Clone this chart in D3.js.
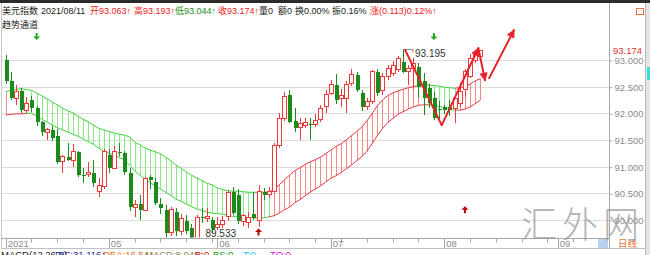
<!DOCTYPE html>
<html>
<head>
<meta charset="utf-8">
<script src="https://cdn.jsdelivr.net/npm/d3@7"></script>
<style>
  body { margin: 0; background: #fff; overflow: hidden; }
  svg { display: block; font-family: "Liberation Sans", "Noto Sans CJK SC", sans-serif; }
</style>
</head>
<body>
<svg id="chart" width="650" height="255"></svg>
<script>
// Daily candles, 2021-04-05 .. 2021-08-11
const opens = [93.00, 92.60, 92.28, 92.41, 92.06, 92.25, 92.10, 91.84, 91.65, 91.69,
  91.58, 91.09, 91.19, 91.12, 91.28, 90.85, 90.86, 90.88, 90.53, 90.63,
  91.22, 90.97, 91.28, 91.25, 90.88, 90.24, 90.30, 90.17, 90.80, 90.72,
  90.30, 90.19, 89.76, 90.15, 89.78, 89.98, 89.85, 89.60, 90.06, 90.02,
  90.00, 89.86, 89.92, 90.06, 90.53, 90.47, 89.97, 89.95, 90.12, 90.00,
  90.53, 90.48, 90.54, 91.40, 91.90, 92.34, 91.86, 91.73, 91.78, 91.80,
  91.79, 91.88, 92.12, 92.38, 92.53, 92.27, 92.28, 92.56, 92.72, 92.38,
  92.12, 92.22, 92.78, 92.42, 92.69, 92.75, 92.83, 92.97, 92.78, 92.84,
  92.87, 92.60, 92.47, 92.28, 92.09, 92.12, 92.12, 92.09, 92.19, 92.44,
  92.69, 93.00, 93.063];
const highs = [93.10, 92.78, 92.53, 92.47, 92.30, 92.32, 92.14, 91.86, 91.73, 91.77,
  91.71, 91.22, 91.44, 91.42, 91.30, 90.97, 91.09, 91.13, 90.78, 91.34,
  91.34, 91.38, 91.44, 91.30, 90.97, 90.37, 90.47, 90.81, 90.84, 90.78,
  90.41, 90.28, 90.25, 90.22, 90.12, 90.10, 89.92, 90.10, 90.22, 90.22,
  90.06, 90.06, 90.08, 90.56, 90.62, 90.58, 90.12, 90.15, 90.53, 90.66,
  90.60, 90.62, 91.45, 92.00, 92.40, 92.44, 92.10, 91.92, 91.92, 91.92,
  91.98, 92.16, 92.44, 92.62, 92.73, 92.46, 92.60, 92.84, 92.78, 92.44,
  92.28, 92.82, 92.83, 92.75, 92.90, 92.98, 93.08, 93.195, 92.91, 93.03,
  92.94, 92.75, 92.55, 92.40, 92.23, 92.15, 92.25, 92.31, 92.56, 92.84,
  93.12, 93.18, 93.193];
const lows = [92.55, 92.25, 92.16, 92.00, 92.00, 92.02, 91.77, 91.58, 91.50, 91.48,
  91.05, 90.88, 91.10, 91.00, 90.80, 90.69, 90.81, 90.62, 90.44, 90.59,
  90.88, 90.97, 91.20, 90.85, 90.16, 90.06, 90.00, 90.16, 90.59, 90.28,
  90.12, 89.65, 89.70, 89.70, 89.72, 89.74, 89.533, 89.56, 89.94, 89.97,
  89.75, 89.81, 89.85, 89.98, 90.10, 89.92, 89.88, 89.85, 90.00, 89.87,
  90.38, 90.42, 90.50, 91.35, 91.85, 91.82, 91.65, 91.50, 91.72, 91.50,
  91.74, 91.83, 92.00, 92.34, 92.18, 92.12, 92.00, 92.52, 92.40, 92.05,
  92.06, 92.18, 92.33, 92.35, 92.62, 92.70, 92.78, 92.75, 92.53, 92.46,
  92.31, 91.96, 92.10, 91.87, 91.86, 91.98, 91.95, 91.81, 92.12, 92.31,
  92.66, 92.94, 93.044];
const closes = [92.60, 92.28, 92.41, 92.06, 92.19, 92.10, 91.84, 91.65, 91.69, 91.54,
  91.09, 91.19, 91.12, 91.28, 90.84, 90.84, 90.90, 90.69, 90.65, 91.28,
  90.97, 91.28, 91.25, 90.90, 90.25, 90.30, 90.18, 90.78, 90.75, 90.31,
  90.22, 89.76, 90.19, 89.80, 90.03, 89.80, 89.62, 90.05, 90.03, 90.06,
  89.84, 89.92, 90.00, 90.51, 90.14, 89.98, 90.09, 90.04, 90.04, 90.53,
  90.46, 90.54, 91.40, 91.90, 92.31, 91.84, 91.73, 91.81, 91.82, 91.78,
  91.87, 92.10, 92.36, 92.55, 92.25, 92.34, 92.54, 92.72, 92.44, 92.12,
  92.22, 92.78, 92.38, 92.70, 92.84, 92.90, 93.03, 92.78, 92.84, 92.94,
  92.50, 92.28, 92.19, 91.91, 92.06, 92.06, 92.06, 92.28, 92.41, 92.78,
  93.03, 93.12, 93.174];

// Trend channel (趋势通道)
const bandUpper = [92.40, 92.43, 92.45, 92.46, 92.45, 92.43, 92.38, 92.33, 92.27, 92.21,
  92.16, 92.10, 92.05, 92.01, 91.95, 91.89, 91.84, 91.78, 91.72, 91.69,
  91.66, 91.63, 91.61, 91.59, 91.56, 91.46, 91.41, 91.35, 91.31, 91.28,
  91.24, 91.18, 91.11, 91.03, 90.97, 90.90, 90.84, 90.79, 90.74, 90.69,
  90.66, 90.60, 90.57, 90.55, 90.54, 90.54, 90.53, 90.52, 90.52, 90.52,
  90.52, 90.53, 90.56, 90.66, 90.75, 90.84, 90.92, 90.98, 91.04, 91.09,
  91.13, 91.18, 91.24, 91.31, 91.38, 91.43, 91.50, 91.58, 91.66, 91.74,
  91.86, 91.99, 92.14, 92.25, 92.33, 92.38, 92.42, 92.45, 92.48, 92.50,
  92.52, 92.53, 92.53, 92.52, 92.51, 92.49, 92.48, 92.47, 92.48, 92.50,
  92.55, 92.61, 92.65];
const bandLower = [91.97, 91.98, 91.99, 91.99, 92.00, 92.00, 91.95, 91.89, 91.84, 91.78,
  91.73, 91.69, 91.65, 91.61, 91.57, 91.52, 91.47, 91.42, 91.35, 91.29,
  91.26, 91.22, 91.17, 91.13, 91.03, 90.92, 90.84, 90.77, 90.70, 90.64,
  90.58, 90.52, 90.46, 90.39, 90.35, 90.30, 90.25, 90.21, 90.18, 90.15,
  90.13, 90.12, 90.11, 90.09, 90.07, 90.06, 90.06, 90.05, 90.04, 90.03,
  90.04, 90.06, 90.08, 90.13, 90.19, 90.24, 90.32, 90.38, 90.45, 90.52,
  90.58, 90.64, 90.71, 90.78, 90.83, 90.89, 90.96, 91.03, 91.11, 91.19,
  91.29, 91.43, 91.58, 91.71, 91.82, 91.90, 91.98, 92.03, 92.08, 92.12,
  92.15, 92.16, 92.16, 92.15, 92.13, 92.11, 92.08, 92.06, 92.06, 92.08,
  92.12, 92.18, 92.25];
// x = start, d = falling (green), u = rising (red)
const bandTrend = ('xxxxx' +
  'ddddddddddddddddddddddddddddddddddddddddddddddd' +
  'uuuuuuuuuuuuuuuuuuuuuuuuuuuuuuu' +
  'ddddd' + 'uuuuu').split('');

const priceTicks = [90, 90.5, 91, 91.5, 92, 92.5, 93];
const lastPrice = 93.174;
const highMark = { i: 77, v: 93.195 };
const lowMark = { i: 36, v: 89.533 };

const downSignals = [{ i: 6, v: 93.44 }, { i: 83, v: 93.44 }];
const upSignals = [{ i: 49, v: 89.775 }, { i: 89, v: 90.19 }];

// hand-drawn red arrows, [index, value] pairs; head = arrowhead at the end
const annotations = [
  { from: [77.4, 93.19], to: [84.5, 91.78], head: false },
  { from: [84.5, 91.78], to: [91.6, 93.22], head: true },
  { from: [91.6, 93.22], to: [92.9, 92.62], head: true },
  { from: [93.7, 92.66], to: [98.5, 93.56], head: true }
];

const headerParts = [
  { t: '美元指数', x: 2, c: '#222' },
  { t: '2021/08/11', x: 41, c: '#222' },
  { t: '开93.063↑', x: 90, c: '#ee2222' },
  { t: '高93.193↑', x: 134, c: '#ee2222' },
  { t: '低93.044↑', x: 175, c: '#1b8c1b' },
  { t: '收93.174↑', x: 218, c: '#ee2222' },
  { t: '量0', x: 259, c: '#222' },
  { t: '额0', x: 278, c: '#222' },
  { t: '换0.00%', x: 295, c: '#222' },
  { t: '振0.16%', x: 332, c: '#222' },
  { t: '涨(0.113)0.12%↑', x: 370, c: '#ee2222' }
];
const macdParts = [
  { t: 'MACD(12,26,9)', x: 1, c: '#222' },
  { t: 'DIF:31.116↑', x: 55, c: '#1c2a8a' },
  { t: 'DEA:16.541↑', x: 103, c: '#e0701c' },
  { t: 'MACD:8.949↑', x: 145, c: '#8a8a5a' },
  { t: 'B:0', x: 195, c: '#e02020' },
  { t: 'BS:0', x: 213, c: '#20a020' },
  { t: 'T:0', x: 243, c: '#20c8d8' },
  { t: 'TO:0', x: 270, c: '#d020d0' }
];

const RED = '#f03a3a';
const GREEN = '#1b8c1b';
const BAND_RED = '#e8383d';
const BAND_RED_HATCH = '#f28a8a';
const BAND_GREEN = '#3fd43f';
const BAND_GREEN_HATCH = '#86ea86';

const svg = d3.select('#chart');
const PLOT = { left: 2, right: 609, bottom: 237.5, axisBottom: 248 };

const x = d3.scaleLinear().domain([0, 92]).range([5.67, 480.4]);
const y = d3.scaleLinear().domain([90, 93]).range([220, 60]);
const crisp = v => Math.round(v) + 0.5;

// weekday dates for the category axis (extends past the last candle)
const dates = [];
for (let d = new Date(2021, 3, 5); dates.length < 118; d.setDate(d.getDate() + 1)) {
  if (d.getDay() !== 0 && d.getDay() !== 6) dates.push(new Date(d));
}

// chrome
svg.append('rect').attr('x', 0).attr('y', 0).attr('width', 650).attr('height', 3).attr('fill', '#2b2b2b');
svg.append('rect').attr('x', 645).attr('y', 3).attr('width', 5).attr('height', 252).attr('fill', '#e4e4e4');
svg.append('line').attr('x1', 645.5).attr('x2', 645.5).attr('y1', 3).attr('y2', 255).attr('stroke', '#b8b8b8');
svg.append('rect').attr('x', 647).attr('y', 67).attr('width', 3).attr('height', 13).attr('fill', '#33e0e0');
svg.append('rect').attr('x', 636.5).attr('y', 8.5).attr('width', 7).attr('height', 6)
  .attr('fill', 'none').attr('stroke', '#e8703a');

svg.append('defs').append('clipPath').attr('id', 'plot-clip')
  .append('rect').attr('x', PLOT.left).attr('y', 3).attr('width', PLOT.right - PLOT.left).attr('height', PLOT.bottom - 3);

// grid
svg.append('g').selectAll('line').data(priceTicks).join('line')
  .attr('x1', PLOT.left).attr('x2', PLOT.right)
  .attr('y1', d => crisp(y(d))).attr('y2', d => crisp(y(d)))
  .attr('stroke', '#dcdcdc');

// frame
svg.append('line').attr('x1', 1.5).attr('x2', 1.5).attr('y1', 3).attr('y2', PLOT.axisBottom).attr('stroke', '#c8c8c8');
svg.append('line').attr('x1', PLOT.right + 0.5).attr('x2', PLOT.right + 0.5).attr('y1', 3).attr('y2', PLOT.axisBottom).attr('stroke', '#a8a8a8');
svg.append('line').attr('x1', 1).attr('x2', PLOT.right).attr('y1', 238.5).attr('y2', 238.5).attr('stroke', '#a8a8a8');
svg.append('line').attr('x1', 1).attr('x2', 645).attr('y1', PLOT.axisBottom + 0.5).attr('y2', PLOT.axisBottom + 0.5).attr('stroke', '#c0c0c0');

// right price axis
const yAxis = svg.append('g').attr('transform', `translate(${PLOT.right + 0.5},0.5)`)
  .call(d3.axisRight(y).tickValues(priceTicks).tickSize(3).tickPadding(2).tickFormat(d => d.toFixed(3)));
yAxis.select('.domain').remove();
yAxis.selectAll('line').attr('stroke', '#a8a8a8');
yAxis.selectAll('text').attr('fill', '#8a8a8a').style('font-size', '9.5px')
  .style('font-family', '"Liberation Sans", sans-serif');

svg.append('text').attr('x', 613).attr('y', y(lastPrice) + 3.5)
  .attr('fill', '#e03030').style('font-size', '9.5px').text(lastPrice.toFixed(3));

// date axis
const dateTicks = dates.map((d, i) => ({
  i,
  major: i === 0 || d.getMonth() !== dates[i - 1].getMonth(),
  monday: d.getDay() === 1,
  label: i === 0 ? String(d.getFullYear()) : String(d.getMonth() + 1).padStart(2, '0')
})).filter(t => (t.major || t.monday) && x(t.i) < PLOT.right);

const xAxis = svg.append('g');
xAxis.selectAll('line').data(dateTicks).join('line')
  .attr('x1', t => crisp(x(t.i))).attr('x2', t => crisp(x(t.i)))
  .attr('y1', 239).attr('y2', t => t.major ? PLOT.axisBottom : 242.5)
  .attr('stroke', '#a8a8a8');
xAxis.selectAll('text').data(dateTicks.filter(t => t.major)).join('text')
  .attr('x', t => x(t.i) + 2).attr('y', 247)
  .attr('fill', '#8a8a8a').style('font-size', '9.5px')
  .text(t => t.label);

svg.append('rect').attr('x', 598).attr('y', 239).attr('width', 10).attr('height', 9).attr('fill', '#b9d3ef');
svg.append('text').attr('x', 618).attr('y', 247).attr('fill', '#e8702a').style('font-size', '9.5px').text('日线');

const plot = svg.append('g').attr('clip-path', 'url(#plot-clip)');

// trend channel hatching and edges
const band = plot.append('g');
const idx = d3.range(opens.length);
band.selectAll('line.hatch')
  .data(idx.filter(i => bandTrend[i] !== 'x' || i === 0))
  .join('line').attr('class', 'hatch')
  .attr('x1', i => crisp(x(i))).attr('x2', i => crisp(x(i)))
  .attr('y1', i => y(bandUpper[i])).attr('y2', i => y(bandLower[i]))
  .attr('stroke', i => bandTrend[i] === 'd' ? BAND_GREEN_HATCH : BAND_RED_HATCH);

const segs = idx.slice(1);
band.selectAll('line.upper').data(segs).join('line').attr('class', 'upper')
  .attr('x1', i => x(i - 1)).attr('x2', i => x(i))
  .attr('y1', i => y(bandUpper[i - 1])).attr('y2', i => y(bandUpper[i]))
  .attr('stroke', i => bandTrend[i] === 'u' ? BAND_RED : BAND_GREEN);
band.selectAll('line.lower').data(segs).join('line').attr('class', 'lower')
  .attr('x1', i => x(i - 1)).attr('x2', i => x(i))
  .attr('y1', i => y(bandLower[i - 1])).attr('y2', i => y(bandLower[i]))
  .attr('stroke', i => bandTrend[i] === 'd' ? BAND_GREEN : BAND_RED);

// candles
const candles = plot.append('g').attr('shape-rendering', 'crispEdges');
idx.forEach(i => {
  const up = closes[i] >= opens[i];
  const cx = Math.round(x(i));
  const top = y(Math.max(opens[i], closes[i]));
  const bot = y(Math.min(opens[i], closes[i]));
  const col = up ? RED : GREEN;
  candles.append('line').attr('x1', cx + 0.5).attr('x2', cx + 0.5)
    .attr('y1', y(highs[i])).attr('y2', y(lows[i])).attr('stroke', col);
  if (up) {
    candles.append('rect').attr('x', cx - 1.5).attr('y', top).attr('width', 4).attr('height', Math.max(1, bot - top))
      .attr('fill', '#fff').attr('stroke', col);
  } else {
    candles.append('rect').attr('x', cx - 1).attr('y', top).attr('width', 4).attr('height', Math.max(1, bot - top))
      .attr('fill', col);
  }
});

// high / low labels
const hx = x(highMark.i), hy = y(highMark.v);
plot.append('polyline').attr('points', `${hx},${hy} ${hx + 10},${hy} ${hx + 10},${hy + 3}`)
  .attr('fill', 'none').attr('stroke', '#888');
plot.append('text').attr('x', hx + 12).attr('y', hy + 7).attr('fill', '#333').style('font-size', '10px')
  .text(highMark.v.toFixed(3));
svg.append('text').attr('x', x(lowMark.i) + 14).attr('y', Math.min(y(lowMark.v) + 4, 237))
  .attr('fill', '#333').style('font-size', '10px').text(lowMark.v.toFixed(3));

// signal arrows
const arrowDown = 'M-1,-3.5 H1 V0 H3.5 L0,3.5 L-3.5,0 H-1 Z';
const arrowUp = 'M-1,3.5 H1 V0 H3.5 L0,-3.5 L-3.5,0 H-1 Z';
plot.selectAll('path.dsig').data(downSignals).join('path').attr('class', 'dsig')
  .attr('d', arrowDown).attr('transform', d => `translate(${x(d.i)},${y(d.v)})`).attr('fill', '#22aa22');
plot.selectAll('path.usig').data(upSignals).join('path').attr('class', 'usig')
  .attr('d', arrowUp).attr('transform', d => `translate(${x(d.i)},${y(d.v)})`).attr('fill', '#c00000');

// red annotation arrows
const anno = plot.append('g').attr('stroke', '#e8202a').attr('stroke-width', 2).attr('fill', '#e8202a');
annotations.forEach(a => {
  const x1 = x(a.from[0]), y1 = y(a.from[1]), x2 = x(a.to[0]), y2 = y(a.to[1]);
  anno.append('line').attr('x1', x1).attr('y1', y1).attr('x2', x2).attr('y2', y2).attr('stroke-linecap', 'round');
  if (a.head) {
    const ang = Math.atan2(y2 - y1, x2 - x1);
    const L = 7, W = 3.5;
    const bx = x2 - L * Math.cos(ang), by = y2 - L * Math.sin(ang);
    const px = -Math.sin(ang) * W, py = Math.cos(ang) * W;
    anno.append('path').attr('stroke-width', 1)
      .attr('d', `M${x2},${y2} L${bx + px},${by + py} L${bx - px},${by - py} Z`);
  }
});

// watermark
svg.append('text').attr('x', 521).attr('y', 238).attr('fill', '#9a9a9a').attr('opacity', 0.75)
  .style('font-size', '36px').style('font-weight', 300).style('letter-spacing', '5px')
  .style('font-family', '"Noto Sans CJK SC", sans-serif').text('汇外网');

// header lines
svg.append('g').selectAll('text').data(headerParts).join('text')
  .attr('x', d => d.x).attr('y', 14).attr('fill', d => d.c).style('font-size', '9px').text(d => d.t);
svg.append('text').attr('x', 2).attr('y', 28).attr('fill', '#222').style('font-size', '9px').text('趋势通道');

svg.append('g').selectAll('text').data(macdParts).join('text')
  .attr('x', d => d.x).attr('y', 258).attr('fill', d => d.c).style('font-size', '9.5px').text(d => d.t);
</script>
</body>
</html>
